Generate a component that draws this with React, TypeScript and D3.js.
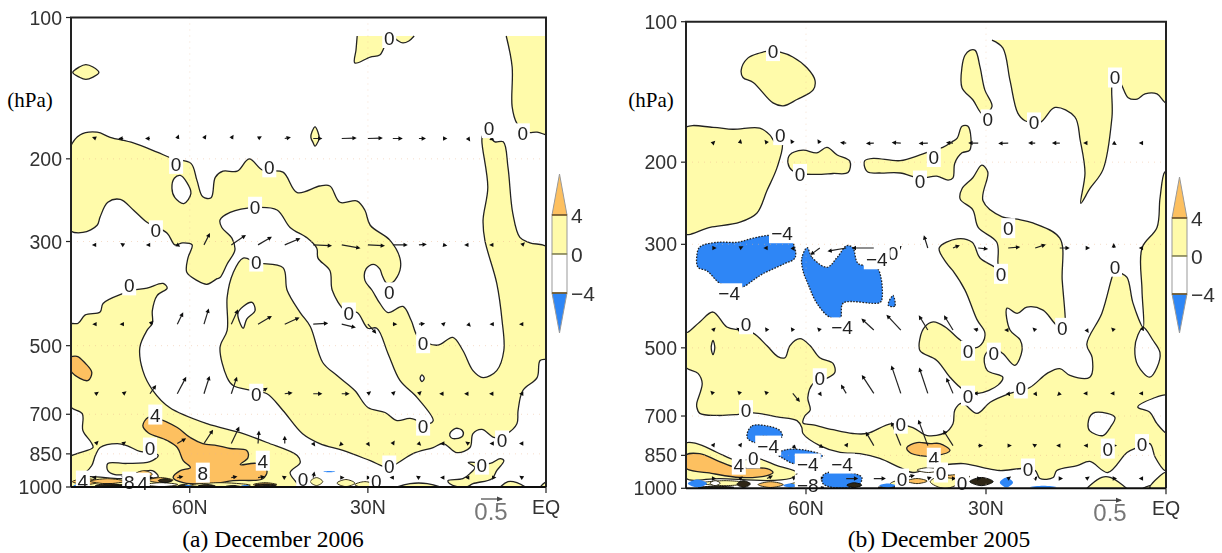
import React from 'react';
import * as d3 from 'd3';

type Pt = [number, number];

const pressureTicks = [100, 200, 300, 500, 700, 850, 1000];
const latTicks = [60, 30];
const legendLevels = [4, 0, -4];

// contours as [latitude, hPa]
const aBlob: Pt[] = [[79.7,131],[78.6,127.5],[77.5,126],[76.3,127.5],[75.3,131],[76.3,134],[77.5,135.5],[78.6,134]];
const aSpot: Pt[] = [[38.9,171],[38.4,175.5],[38.2,181],[38.6,186],[38.9,188],[39.2,185],[39.6,180],[39.4,175]];
const aTopMid: Pt[] = [[31.8,109.5],[32,117.3],[32.2,125],[29.6,121.4],[28,120.2],[26.9,113.3],[25.9,110],[25.1,111.7],[24.1,113.3],[23.1,112.2],[22.2,109.5]];
const aTopRight: Pt[] = [[6.7,109.5],[5.7,127.5],[5.7,155],[4.9,168],[3.2,175.5],[1.5,175.5],[-0.2,178],[-1,178],[-1,109.5]];
const aMain: Pt[] = [[80.3,192],[78.5,178],[75.6,175.5],[73.4,180],[69.5,185],[65.5,193.5],[63,199.5],[59.8,204.5],[58.8,222],[57.8,241],[56.4,242],[55.7,219],[54.4,212.5],[52,212.5],[50,200],[47.7,211.5],[44.3,213.5],[41.9,236],[38.1,228.5],[36.4,228.5],[34.7,247.5],[31.8,246],[30.5,257.4],[29.6,277],[26.3,298],[24.6,325.5],[24.6,345.6],[25.8,366.5],[26.8,368.5],[27.6,354],[28,343],[29.1,335.5],[30.3,343],[30.5,363],[29.3,381],[28,406],[26.6,425],[24.1,412.5],[22.7,442],[21.5,480],[18.3,499],[15.7,480],[14,512],[12.3,565],[10.6,585],[8.3,565],[7.1,512],[7.4,442],[8.3,368],[10.3,298],[10.6,270],[9.8,230],[10.8,182.5],[10.6,178],[9.4,180],[8.6,184],[7.2,184],[6.4,208.5],[5.6,261],[4.4,294],[2.7,302],[-0.5,310.5],[-0.5,530],[1,537.7],[1.5,585],[3.9,623],[4.7,687],[4.9,733],[6.6,770],[8.6,785],[10.8,754],[12.3,770],[12.8,824],[15,845],[17.3,808],[19,824],[22.4,849],[25.1,891],[26.6,909],[29.6,879],[34.2,836],[38.1,808],[41,770],[44.3,687],[47,633],[49.5,623],[52.7,608],[53.7,585],[54.9,504],[53.7,464],[53.7,394],[52.7,350],[51,325.5],[48.7,333],[44.3,341],[43.6,381],[41.4,425],[39.7,455],[37.6,543],[35.2,579],[32.2,623],[30,677],[27.1,694],[25.1,722],[22.9,714],[19.9,733],[19,722],[21.7,645],[24.6,593],[26.6,520],[28.5,459],[30,459],[31.8,425],[33.8,421],[36,381],[36.4,346],[38.4,325.5],[38.6,310],[40.2,295],[43.1,280],[45.3,257],[49,254],[53.2,260],[54.9,270],[54.6,280],[52.9,295],[52.4,313],[53.7,335],[54.9,358],[55.4,360],[57.1,370],[58.8,363],[60.5,349],[60.3,325],[59.6,305],[61.2,302],[62.5,305],[63.8,288],[67.2,273],[69.5,257],[71.7,244],[73.8,247.5],[75.1,266],[75.6,277],[78,287],[80.3,283]];
const aHole1: Pt[] = [[61.6,217],[60.5,224.5],[59.8,237],[61,249],[62.5,242],[63,231],[62.6,220]];
const aHole2: Pt[] = [[49.5,404.5],[49,421],[50.4,439],[51,459],[51.9,427],[51,412.5]];
const aHole3: Pt[] = [[20.9,577],[20.5,587],[20.9,596],[21.2,587]];
const aHole4: Pt[] = [[16.2,770],[15.2,750],[14.1,758],[14,777],[15.2,789],[16,785]];
const aLow: Pt[] = [[80.3,451],[78.8,448],[77.6,430],[75.1,424],[74.6,406.5],[71.2,387],[69.5,381],[67.2,377],[64.5,368.5],[63.8,377],[65.5,391],[66.3,421],[66.3,448],[67.2,464],[68.4,504],[67.9,565],[66.2,623],[63.4,677],[57.1,733],[51.5,766],[47,804],[41.9,857],[41.4,887],[43.1,932],[41.9,984],[41.4,1020],[80.3,1020],[80.3,866],[79,849],[76.3,824],[76.6,804],[78,758],[78.1,698],[80.3,670]];
const aIsland: Pt[] = [[75.1,824],[72.2,808],[70.6,816],[68.4,840],[66.3,845],[65.3,857],[66.7,883],[70.6,891],[73.8,891],[73.8,923],[72.6,941],[69.5,936],[66.3,923],[65.3,950],[66.7,960],[71.7,960],[76.8,950],[79,955],[77.6,932],[76.5,900],[75.9,857]];
const aWarm1: Pt[] = [[80.3,532],[79,527],[77.6,545],[76.5,570],[77.1,593],[78.5,587],[80.3,559]];
const aWarm2: Pt[] = [[67.9,740],[67,711],[65.5,714],[62.1,747],[59.9,785],[57.8,808],[55.4,816],[53.2,828],[50.4,836],[50.2,866],[51.5,896],[48.7,891],[47,923],[47.7,960],[52.7,969],[56.1,984],[61.1,979],[62.8,955],[61.6,923],[59.9,909],[61.1,879],[62.1,824],[63.8,796],[67,766]];
const aIsle1: Pt[] = [[13.1,887],[11.6,887],[9.4,891],[7.7,870],[7.1,879],[8.3,923],[9.1,960],[12.3,984],[13.6,1003],[16.2,984],[16.5,969],[14,960],[12.8,936],[12,909]];
const aIsle2: Pt[] = [[8.1,1020],[6.4,974],[4.9,979],[2.7,1020]];
const aIsle3: Pt[] = [[1.3,1020],[0.2,979],[-1,975],[-1,1020]];
const aIsle4: Pt[] = [[26.6,1020],[22.9,984],[20,984],[16.3,1020]];

const bBlob: Pt[] = [[66.3,115.6],[64.3,116.2],[62.2,119],[59.8,125.7],[58.5,133.6],[58.8,140],[61.5,146.8],[63.8,151.5],[65.5,149.3],[68.8,135],[70.5,131.7],[70.8,127],[69.7,119.7],[67.7,116.7]];
const bUpperLeft: Pt[] = [[80.5,170],[75.5,168.4],[72.2,170],[67.7,169],[66,175],[65.2,181],[64,182],[64.8,205],[66.5,230],[68.2,257.4],[71,269],[76,276],[80.5,284]];
const bMidA: Pt[] = [[62.7,193],[60.5,188.5],[58.2,191],[56.5,186],[54.8,193],[52.7,199],[53,210.5],[55.5,211.5],[58.2,212.5],[61,211.5],[62.3,208.5],[63,200.9]];
const bMidB: Pt[] = [[50.3,203],[50.2,198.5],[48.8,196.3],[44.3,198.5],[41,193],[38.8,188.5],[37.2,186],[35.7,181],[34.8,177.7],[34,167.5],[33,167.5],[32.7,188.5],[34,191],[35.2,201],[35.5,216],[36.3,218.5],[38.2,214.3],[41,216.5],[44.3,211],[47.7,211],[49.7,210]];
const bFinger: Pt[] = [[32.7,115.2],[31.8,115.2],[31,125],[30.2,140],[29,152],[30.5,158],[32.2,147],[34,138.5],[34,125],[33.5,118]];
const bTopBig: Pt[] = [[29,109.5],[27.2,113.8],[26,133.6],[24.7,157],[23.5,163],[21,164.4],[18.5,152.7],[15.2,160],[14.3,179.5],[13.5,211],[14.2,245],[12.7,228],[10.5,207.5],[9,160],[8.8,133.6],[7.7,135],[6.3,145.5],[4.8,146.5],[3.5,142.8],[1.5,142.8],[0.2,148.8],[-0.5,149.5],[-0.5,109.5]];
const bMain: Pt[] = [[-0.3,210],[0.2,210],[1,239],[1.5,276],[4,305.5],[4,376],[3.8,452],[5.5,401],[6.5,353],[7.7,344.7],[8.5,340],[9,353],[10.7,422],[13.2,491],[12.3,525],[12.7,578],[16,573],[17.7,554],[19.8,567],[22.7,608],[26,626],[29.3,654],[31.5,691],[34,657],[35.2,680],[35.5,727],[36.8,760],[39.8,771],[42.2,741],[45.7,727],[49.8,763],[52.2,763],[55.5,749],[58.8,731],[60.5,724],[60.2,700],[59.3,680],[59.7,639],[58.8,596],[56.5,581],[55.2,565],[55.5,540],[57.7,525],[59.3,495],[61,478],[62.7,495],[63.5,525],[64.7,522],[66.5,495],[68.8,465],[71,458],[73.2,451],[75.5,419],[77.7,440],[79.7,463],[80.2,465],[80.2,548],[78,567],[77.3,596],[78.2,657],[78.2,670],[77.7,691],[74.8,698],[71.5,695],[68.8,689],[64.8,703],[61.5,716],[60.7,741],[60.5,763],[57.7,810],[54.3,838],[51,843],[47.7,863],[44.3,903],[42.2,925],[39.3,903],[37.7,894],[33.8,885],[30.5,903],[27.7,916],[23.8,907],[21.8,916],[21,953],[18.8,948],[18.2,916],[14.8,894],[12.7,876],[9.7,925],[6.5,838],[4.8,818],[2.7,802],[1.8,858],[0.2,916],[-0.3,916]];
const bHole1: Pt[] = [[3.8,452],[2.2,481],[1,512],[1.5,551],[2.7,578],[4.7,545],[5.2,502],[4.7,470]];
const bHole2: Pt[] = [[12.2,691],[9.8,691],[8.5,705],[9.3,741],[10.5,771],[12.7,753],[13,727]];
const bBay: Pt[] = [[-0.3,633],[2.2,642],[4.7,670],[2.7,687],[1.5,727],[-0.3,763]];
const bHole3: Pt[] = [[75.5,482],[75.2,500],[75.5,517],[75.8,500]];
const bHole4: Pt[] = [[20.5,330],[19.7,342],[20.5,347],[21.2,340]];
const bCentral: Pt[] = [[30.7,203],[29.7,210],[30.5,242],[27.3,262],[24.8,265],[22.2,270],[17.7,291],[17.3,358],[16.8,430],[16.8,451],[18.2,447],[20.5,415],[23.2,409],[24.8,422],[26.5,411],[26,458],[24.3,481],[24,507],[25.2,545],[27.2,514],[28.8,500],[30.2,520],[29.8,559],[27.2,578],[28,601],[31.3,626],[33.8,614],[36,578],[38.2,532],[41,507],[41,477],[40.2,451],[38.8,440],[36.8,451],[34.3,481],[31.8,500],[30.5,486],[30.2,463],[31.5,435],[33.5,376],[35.5,342],[36.5,330],[37.8,305.5],[34.8,292],[32.3,297],[31,321],[28.5,336],[27.7,345],[28,330],[28.2,297],[31.3,276],[32.2,253],[34.3,240],[34,228],[32.2,216]];
const bCold1: Pt[] = [[78.2,318],[77.7,304],[74.8,297],[71.5,297],[68.8,291],[66,287],[62.7,291],[61.8,320],[63.8,331],[67.2,347],[68.8,358],[70.5,370],[72.2,370],[74.3,364],[76.5,342],[78,336]];
const bCold2: Pt[] = [[59.8,305],[59,320],[56.5,336],[54.8,320],[53.2,302],[52.2,305],[51.3,330],[48.2,336],[47.3,390],[47.7,400],[53.8,401],[54.3,431],[56,430],[58.2,401],[59.7,364],[60.5,342],[60.7,321]];
const bCold3: Pt[] = [[45.5,386],[45.2,407],[46.3,405]];
const bCold4: Pt[] = [[69.8,763],[69,735],[66.5,735],[64.3,753],[64,776],[67.7,776],[68.2,798],[69.7,783]];
const bCold5: Pt[] = [[64.8,843],[63.2,826],[59.8,830],[57.3,851],[57.7,863],[61.5,858],[61.8,885],[63.8,863]];
const bCold6: Pt[] = [[57.2,939],[55.5,920],[52.7,925],[50.7,948],[51.3,986],[55.5,996],[57.2,976]];
const bWarm1: Pt[] = [[43.2,818],[41.5,798],[39.3,802],[37.7,802],[36,830],[38.2,851],[41,851],[42.7,838]];
const bLowBand: Pt[] = [[80.2,802],[78.2,802],[74.8,838],[71.5,872],[68.2,863],[64.8,894],[61.5,925],[62.2,948],[65.5,962],[74.3,953],[80.2,948]];
const bLowWarm: Pt[] = [[80.2,851],[77.7,843],[74.8,872],[71.5,903],[66.5,907],[65.5,925],[66.5,939],[71,948],[75.5,930],[80.2,903]];
const bLump1: Pt[] = [[13.5,1020],[10.7,948],[9.3,948],[6.2,1020]];
const bLump2: Pt[] = [[4.7,1020],[2.7,987],[0,996],[-1,1020]];
const bLump3: Pt[] = [[2.7,996],[2.2,973],[0.2,925],[-0.3,925],[-0.3,1020]];

// thin surface features: lat from, lat to, hPa top, hPa bottom, band value
const aStrips = [
  [79.8,75.1,960,988,5],[76.8,70.9,960,984,5],[69.2,66.3,923,955,5],[67,62.8,955,979,5],[70.4,67,969,988,5],[75.1,67.5,988,1003,1],
  [67.5,62,979,998,-1],[60,49.8,979,1003,1],[49.3,45.3,979,998,5],[39.7,37.6,955,993,1],[35.2,32.2,964,998,1],[32.2,28.8,974,1003,1],
  [75.9,71.4,984,1003,9],[65.3,63,960,979,9],[62,60,988,1003,9],[75,67,993,1003,9],[58.6,55.7,988,1003,9],[54,51.5,993,1003,9],[49,45.5,985,996,9],
  [79.6,78.8,988,1003,-4],[61,59.5,990,1003,-4],[51.5,49.8,990,1003,-4],[37.5,35.5,925,930,-4],
];
const bStrips = [
  [68,63.8,968,996,5],[77.7,69.3,963,987,1],[62.7,58.5,968,996,1],[39.3,34.3,935,1001,1],[46,43.5,963,996,1],
  [43.2,39.8,953,977,5],[37.2,32.7,935,953,5],[41.5,37.7,903,925,-1],[76,74.3,963,987,-1],
  [71.5,69.3,963,996,9],[53.2,50.7,973,996,9],[32.7,28.8,948,987,9],[78,72,990,1001,9],[60,57,990,1001,9],[48,44,990,1001,9],
  [79.7,76.5,958,996,-4],[63.8,61.5,977,996,-4],[47.8,45,977,996,-4],[27.7,25.5,948,996,-4],[22.7,18.2,987,1001,-4],
];

const aLayers: [Pt[], number, boolean?][] = [
  [aBlob,1],[aSpot,1],[aTopMid,1,true],[aTopRight,1,true],[aMain,1],[aHole1,-1],[aHole2,-1],[aHole3,-1],[aHole4,-1],
  [aLow,1],[aIsland,-1],[aWarm1,5],[aWarm2,5],[aIsle1,1],[aIsle2,1],[aIsle3,1],[aIsle4,1],
];
const bLayers: [Pt[], number, boolean?][] = [
  [bBlob,1],[bUpperLeft,1],[bMidA,1],[bMidB,1],[bFinger,1],[bTopBig,1,true],[bMain,1],[bHole1,-1],[bHole2,-1],[bBay,-1],[bHole3,-1],[bHole4,-1],
  [bCentral,1],[bLowBand,1],[bLowWarm,5],[bWarm1,5],[bCold1,-4],[bCold2,-4],[bCold3,-4],[bCold4,-4],[bCold5,-4],[bCold6,-4],
  [bLump1,1],[bLump2,1],[bLump3,1],
];

const aLabels: [number, number, string][] = [
  [62.3,205,'0'],[46.6,208.5,'0'],[49,253,'0'],[65.7,284,'0'],[48.8,331,'0'],[70.2,372,'0'],[65.8,701,'4'],[66.7,824,'0'],[48.8,633,'0'],
  [57.8,932,'8'],[47.7,879,'4'],[40.9,960,'0'],[78,969,'4'],[70.2,974,'8'],[67.9,979,'4'],[26.4,110.6,'0'],[9.6,172,'0'],[3.9,176.5,'0'],
  [26.4,385,'0'],[33.2,425,'0'],[20.7,494,'0'],[20.7,740,'0'],[7.4,796,'0'],[26.4,900,'0'],[10.8,896,'0'],[28.6,969,'0'],
];
const bLabels: [number, number, string][] = [
  [65.5,115.6,'0'],[64.3,175,'0'],[61,212,'0'],[64,284,'−4'],[45.5,313,'0'],[48.2,323,'−4'],[38.7,195,'0'],[41,219,'0'],[29.7,162,'0'],[22,164.4,'0'],
  [8.5,131.7,'0'],[26.3,277,'0'],[27.5,347,'0'],[8.5,335,'0'],[72.8,382,'−4'],[70,445,'0'],[54,452,'−4'],[57.7,581,'0'],[70,680,'0'],[44.2,727,'0'],
  [66.3,810,'−4'],[68.8,863,'0'],[71.2,890,'4'],[59.7,885,'−4'],[54,885,'−4'],[44,953,'0'],[59.7,982,'−8'],[17.3,453,'0'],[33,507,'0'],[28.7,512,'0'],
  [33,633,'0'],[24.2,611,'0'],[38.7,860,'4'],[37.5,925,'0'],[34,976,'0'],[23,907,'0'],[9.7,822,'0'],[4,804,'0'],
];

// wind vectors: one u and one w list per level
const aVectorLats = [75.8,71.2,66.7,62.1,57.6,53,48.5,44,39.2,34.4,30,25.8,21.4,17.3,13.1,8.9,4];
const bVectorLats = [75.5,71,66.5,62.2,57.7,53.3,48.7,44.2,39.7,35.5,31.3,26.3,21.8,17.7,13.2,8.7,4];
const aLevels = [181,305,450,633,808,955];
const bLevels = [182,305.5,458,626,810,953];
const aU = [
  [-.05,-.07,-.07,.02,.03,.03,.05,.1,.17,.31,.31,.19,.12,.05,.02,-.05,-.03],
  [-.05,-.03,-.05,.03,.12,.31,.29,.33,.4,.4,.36,.31,.14,.05,-.05,-.05,.03],
  [-.04,-.04,.05,.12,.1,.14,.29,.31,.31,.29,.17,.06,.1,.02,.03,-.04,-.03],
  [.03,.04,.12,.19,.12,.12,.19,.14,.17,.14,.04,.03,.03,-.05,-.05,-.05,-.03],
  [.03,.03,.05,.17,.19,.17,.02,0,.02,-.03,.02,.02,.02,-.03,-.03,-.04,-.03],
  [-.05,.03,.03,.1,.1,.1,.12,-.03,.02,.02,.03,-.03,-.03,-.03,-.03,.03,-.03],
];
const aW = [
  [.02,0,0,.05,.05,.05,.03,.02,0,.01,.01,0,0,0,-.03,-.02,-.03],
  [0,.02,0,-.02,.24,.21,.17,.14,-.02,-.07,-.02,0,.01,-.01,0,0,.03],
  [0,0,.05,.24,.33,.31,.17,.14,.02,-.07,-.19,0,.01,.02,-.03,0,0],
  [.02,.03,.17,.36,.38,.36,.12,.02,0,0,.03,.03,.03,0,0,0,0],
  [.03,.02,.03,.1,.29,.36,.26,.14,-.03,-.03,-.03,.03,-.02,0,.02,0,0],
  [0,.02,0,.02,0,.02,.02,.02,.1,0,0,0,.02,0,0,0,.02],
];
const bU = [
  [.02,.01,-.03,-.03,-.03,-.1,-.14,-.17,-.17,-.12,-.19,-.19,-.12,-.14,-.04,.03,-.03],
  [.04,.04,-.04,.02,-.19,-.4,-.48,-.05,-.08,.12,.19,.24,.21,.19,.03,0,-.03],
  [.03,-.05,-.02,-.02,-.03,-.12,-.26,-.31,-.19,-.19,-.07,-.05,-.03,-.03,.02,-.03,.02],
  [-.03,-.03,-.03,.14,.02,-.1,-.26,-.21,-.19,-.14,-.07,.02,.02,-.03,-.04,-.04,-.03],
  [.02,.02,-.02,.05,.05,.02,-.17,-.21,-.21,-.21,.07,.04,-.03,-.04,-.03,.03,.03],
  [.03,.03,.1,.05,.05,.24,.24,.29,.05,.03,.03,.03,.02,.03,.03,.03,-.03],
];
const bW = [
  [.02,.05,.04,.05,.05,.01,-.01,.01,-.01,.01,0,-.01,0,0,0,-.02,0],
  [0,.02,0,-.03,-.14,-.07,0,.02,.26,.05,-.02,.02,.07,0,0,.07,0],
  [.03,.03,.03,.03,.03,.02,.24,.33,.31,.31,.02,0,.03,0,-.03,.03,.05],
  [.03,.03,.03,-.17,-.03,.17,.4,.62,.57,.33,0,-.03,-.03,-.03,0,0,0],
  [.03,.03,.03,-.05,-.03,.03,.29,.52,.57,.33,0,0,.02,0,0,0,0],
  [0,.02,.05,.02,.02,0,0,.07,.02,0,0,.02,.02,0,.02,0,0],
];

const YELLOW = '#fffbaa';
const ORANGE = '#fdc060';
const BLUE = '#2f86f6';
const INK = '#222';
const TICK_FONT = "'Liberation Sans Narrow','Liberation Sans',sans-serif";

const bandColor = d3.scaleThreshold<number, string>().domain([-3, 0, 3, 8]).range([BLUE, '#ffffff', YELLOW, ORANGE, '#2e2814']);
const vectorLength = d3.scaleLinear().domain([0, 0.5]).range([0, 21]);

const Panel = ({ id, left, right, top, bottom, layers, strips, labels, lats, levels, u, w, caption, captionX, unitX, bar }: any) => {
  const x = d3.scaleLinear().domain([80, 0]).range([left, right]);
  const y = d3.scaleLog().domain([100, 1000]).range([top, bottom]);
  const curve = d3.line<Pt>().x(d => x(d[0])).y(d => y(d[1])).curve(d3.curveCatmullRom.alpha(0.5));
  const closed = d3.line<Pt>().x(d => x(d[0])).y(d => y(d[1])).curve(d3.curveCatmullRomClosed.alpha(0.5));
  const barScale = d3.scaleLinear().domain([4, -4]).range([bar.y4, bar.ym4]);

  return (
    <g>
      <defs>
        <clipPath id={id}><rect x={left} y={top} width={right - left} height={bottom - top} /></clipPath>
      </defs>
      <g filter="url(#soft)">
        <g clipPath={`url(#${id})`}>
          {layers.map(([pts, band, open]: any, i: number) => (
            <path key={i} d={(open ? curve : closed)(pts) as string} fill={bandColor(band)}
              stroke={INK} strokeWidth={1.3} strokeDasharray={band < -3 ? '1.6 1.4' : undefined} />
          ))}
          {strips.map(([a, b, p0, p1, band]: number[], i: number) => (
            <path key={i} d={closed([[a, (p0 + p1) / 2], [(a + b) / 2, p0], [b, (p0 + p1) / 2], [(a + b) / 2, p1]]) as string}
              fill={bandColor(band)} stroke={band > 8 ? '#111' : band < -3 ? 'none' : '#332e18'} strokeWidth={1} />
          ))}
          {pressureTicks.slice(1, -1).map(p => (
            <line key={p} x1={left} x2={right} y1={y(p)} y2={y(p)} stroke="#e8b48c" strokeOpacity={0.45} strokeDasharray="1 5" />
          ))}
          {latTicks.map(l => (
            <line key={l} x1={x(l)} x2={x(l)} y1={top} y2={bottom} stroke="#e8b48c" strokeOpacity={0.4} strokeDasharray="1 5" />
          ))}
          {levels.map((p: number, r: number) => lats.map((lat: number, c: number) => {
            const x0 = x(lat);
            const y0 = y(p);
            const dx = vectorLength(u[r][c]);
            const dy = -vectorLength(w[r][c]);
            const a = Math.atan2(dy, dx);
            const hx = x0 + dx;
            const hy = y0 + dy;
            const head = [[hx + 2 * Math.cos(a), hy + 2 * Math.sin(a)],
              [hx - 3.2 * Math.cos(a - 0.75), hy - 3.2 * Math.sin(a - 0.75)],
              [hx - 3.2 * Math.cos(a + 0.75), hy - 3.2 * Math.sin(a + 0.75)]];
            return (
              <g key={`${r}-${c}`}>
                <line x1={x0} y1={y0} x2={hx} y2={hy} stroke={INK} strokeWidth={1.2} />
                <polygon points={head.map(h => h.join(',')).join(' ')} fill="#111" />
              </g>
            );
          }))}
        </g>
        {labels.map(([lat, p, t]: [number, number, string], i: number) => {
          const w2 = t.length > 1 ? 13 : 7;
          return (
            <g key={i}>
              <rect x={x(lat) - w2} y={y(p) - 10} width={w2 * 2} height={20} fill="#fff" />
              <text x={x(lat)} y={y(p) + 7} textAnchor="middle" fontFamily={TICK_FONT} fontSize={19} fill="#222">{t}</text>
            </g>
          );
        })}
        <path d={`M${left},${bottom}V${top}H${right}V${bottom}`} fill="none" stroke={INK} strokeWidth={2} />
        <line x1={left} x2={right} y1={bottom} y2={bottom} stroke="#111" strokeWidth={2} />
        {pressureTicks.map(p => (
          <g key={p}>
            <line x1={left - 5} x2={left} y1={y(p)} y2={y(p)} stroke={INK} strokeWidth={1.2} />
            <text x={left - 9} y={y(p) + 7} textAnchor="end" fontFamily={TICK_FONT} fontSize={19.5} fill="#333">{p}</text>
          </g>
        ))}
        {latTicks.map(l => (
          <g key={l}>
            <line x1={x(l)} x2={x(l)} y1={bottom} y2={bottom + 6} stroke={INK} strokeWidth={1.2} />
            <text x={x(l)} y={bottom + 27} textAnchor="middle" fontFamily={TICK_FONT} fontSize={19.5} fill="#333">{l}N</text>
          </g>
        ))}
        <line x1={x(0)} x2={x(0)} y1={bottom} y2={bottom + 6} stroke={INK} strokeWidth={1.2} />
        <text x={x(0)} y={bottom + 27} textAnchor="middle" fontFamily={TICK_FONT} fontSize={19.5} fill="#333">EQ</text>

        {/* reference vector */}
        <line x1={bar.refX} x2={bar.refX + vectorLength(0.5)} y1={bottom + 12} y2={bottom + 12} stroke="#444" strokeWidth={1.2} />
        <path d={`M${bar.refX + vectorLength(0.5) + 1},${bottom + 12}l-6,-2.5v5z`} fill="#444" />
        <text x={bar.refX + 10} y={bottom + 33} textAnchor="middle" fontFamily={TICK_FONT} fontSize={24} fill="#777">0.5</text>

        {/* colour key */}
        <polygon points={`${bar.x},${barScale(4)} ${bar.x + 15},${barScale(4)} ${bar.x + 7.5},${bar.tip4}`} fill={ORANGE} stroke="#999" />
        <rect x={bar.x} y={barScale(4)} width={15} height={barScale(0) - barScale(4)} fill={YELLOW} stroke="#999" />
        <rect x={bar.x} y={barScale(0)} width={15} height={barScale(-4) - barScale(0)} fill="#fff" stroke="#999" />
        <polygon points={`${bar.x},${barScale(-4)} ${bar.x + 15},${barScale(-4)} ${bar.x + 7.5},${bar.tipm4}`} fill={BLUE} stroke="#999" />
        {legendLevels.map(l => (
          <g key={l}>
            <line x1={bar.x} x2={bar.x + 15} y1={barScale(l)} y2={barScale(l)} stroke={l === 0 ? '#8a8850' : '#6a4a10'} strokeWidth={1.4} />
            <text x={bar.x + 19} y={barScale(l) + 8} fontFamily={TICK_FONT} fontSize={21} fill="#333">{l < 0 ? `−${-l}` : l}</text>
          </g>
        ))}
      </g>
      <text x={captionX} y={547} textAnchor="middle" fontFamily="'Liberation Serif',serif" fontSize={23.5} fill="#000">{caption}</text>
      <text x={unitX} y={107} textAnchor="middle" fontFamily="'Liberation Serif',serif" fontSize={21} fill="#000">(hPa)</text>
    </g>
  );
};

export default function App() {
  return (
    <svg width={1222} height={553} style={{ position: 'absolute', left: 0, top: 0, background: '#fff' }}>
      <defs>
        <filter id="soft" x="-5%" y="-5%" width="110%" height="110%"><feGaussianBlur stdDeviation="0.4" /></filter>
      </defs>
      <Panel id="clipA" left={71} right={546} top={17.5} bottom={487} layers={aLayers} strips={aStrips} labels={aLabels}
        lats={aVectorLats} levels={aLevels} u={aU} w={aW} caption="(a) December 2006" captionX={273} unitX={30}
        bar={{ x: 552, y4: 215, ym4: 293, tip4: 174, tipm4: 333, refX: 481 }} />
      <Panel id="clipB" left={686} right={1166} top={21.7} bottom={488.3} layers={bLayers} strips={bStrips} labels={bLabels}
        lats={bVectorLats} levels={bLevels} u={bU} w={bW} caption="(b) December 2005" captionX={939} unitX={651}
        bar={{ x: 1172, y4: 218, ym4: 294, tip4: 177, tipm4: 333, refX: 1100 }} />
    </svg>
  );
}
